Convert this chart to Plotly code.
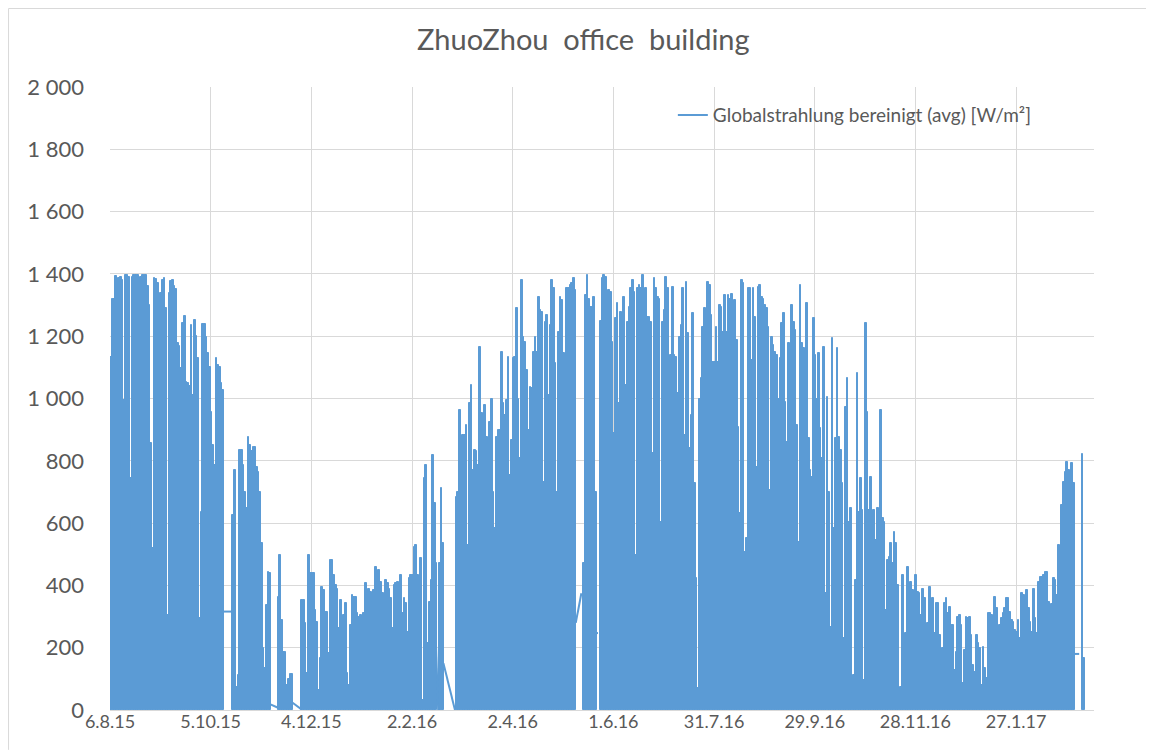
import pandas as pd
import plotly.graph_objects as go

START = "2015-08-06"
END = "2017-03-14 10:00"
SERIES_NAME = "Globalstrahlung bereinigt (avg) [W/m²]"
N = None

# daily peak of the global irradiance [W/m²], one value per day from 6.8.15 (None = no data)
peak = [
    1134, 1321, 1321, 1394, 1295, 1386, 1390, 1380, 995, 1396,
    1396, 1390, 744, 1390, 1396, 1396, 1396, 1263, 1390, 1396,
    1396, 1398, 1360, 1300, 856, 519, 1386, 1384, 1370, 209,
    1340, 1380, 1386, 1290, 305, 1340, 1376, 1380, 1360, 1350,
    1177, 1170, 1097, 1241, 1266, 1054, 1050, 1040, 1236, 1010,
    1252, 1200, 1130, 294, 637, 1240, 1240, 1198, 1145, 1100,
    958, 850, 786, 1129, 1107, 1100, 1050, 1027,
    N, N, N, N, N,
    626, 770, 75, 112, 834, 834, 786, 700, 650, 877,
    850, 830, 845, 845, 780, 765, 700, 535, 198, 134,
    337, 444, 440,
    N, N, N, N,
    364, 497, 289, 187, 187, 80, 101, 114, 114,
    N, N, N, N, N,
    353, 353, 278, 118, 497, 440, 439, 439, 321, 283,
    64, 166, 396, 385, 316, 316, 182, 481, 481, 433,
    401, 390, 262, 353, 230, 305, 342, 118, 80, 273,
    369, 364, 364, 310, 300, 305, 59, 310, 407, 369,
    390, 380, 348, 385, 460, 390, 449, 412, 375, 123,
    417, 407, 390, 358, 262, 401, 407, 412, 385, 433,
    310, 358, 342, 251, 423, 433, 433, 524, 530, 433,
    390, 487, 32, 744, 786, 214, 348, 417, 819, 663,
    471, N, 471, 712, 535,
    N, N, N, N, N, N, N,
    685, 700, 963, 765, 883, 883, 915, 530, 984, 1043,
    770, 835, 830, 786, 1166, 952, 428, 979, 877, 669,
    925, 1000, 700, 583, 877, 899, 899, 1150, 984, 947,
    995, 1134, 754, 867, 1129, 1134, 1289, 1000, 808, 1380,
    1198, 1182, 1091, 899, 1038, 1033, 1150, 1198, 1150, 1327,
    1284, 1279, 733, 1247, 1268, 1011, 1236, 1380, 1354, 1113,
    700, 1214, 1327, 1316, 1145, 567, 1354, 1354, 1364, 1370,
    1386, 1348,
    N, N, N, N,
    472, 1332, 1396, 1321, 1295, 1295, 1327, 700,
    N, N,
    1250,
    1386, 1396, 1390, 1225, 1348, 1343, 1182, 888, 1257, 1305,
    984, 1279, 1166, 1327, 1043, 1247, 1295, 1354, 1380, 1343,
    498, 1354, 1364, 1354, 1396, 1247, 1354, 1263, 1263, 1247,
    824, 1386, 1354, 1327, 1320, 605, 1247, 1284, 1391, 1354,
    1124, 1140, 1359, 1140, 1134, 1017, 1198, 1236, 1354, 883,
    1375, 1209, 840, 947, 1273, 728, 423, 70, 1000, 1065,
    1231, 1289, 1214, 1375, 1364, 1268, 1118, 1118, 1231, 1118,
    1300, 1295, 1214, 1332, 1214, 1332, 1321, 1337, 1310, 1316,
    1187, 909, 631, 1380, 1370, 508, 551, 1354, 1354, 1124,
    1354, 1263, 781, 1359, 1364, 1327, 1321, 1300, 1289,
    1230, 706, 1198, 1172, 1150, 1140, 1000, 1129, 1241, 1273,
    990, 861, 1177, 1065, 1300, 1247, 1220, 915, 540, 1364,
    1177, 1161, 1091, 1305, 872, 770, 749, 1257, 1140, 1000,
    1145, 904, 808, 1166, 375, 1006, 700, 268, 1193, 583,
    872, 1161, 877, 835, 728, 230, 974, 1065, 605, 647,
    54, 112, 417, 1081, 637, 744, 642, 96, 1241, 958,
    642, 749, 621, 642, 546, 647, 567, 963, 615, 605,
    321, 481, 492, 535, 471, 572, 535, 401, 70, 75,
    433, 70, 246, 460, 401, 412, 385, 316, 433, 380,
    375, 305, 390, 358, 273, 278, 396, 342,
    358, 246, 342, 342, 241, 144, 198, 342, 358, 310,
    332, 273, 273, 128, 187, 300, 305, 273, 86, 193,
    300, 294, 300, 241, 144, 123, 241, 214, 198, 80,
    203, 134, 102, 310, 310, 305, 300, 364, 326, 251,
    273, 294, 310, 326, 358, 358, 316, 289, 284, 257,
    251, 289, 230, 375, 369, 353, 385, 326, 284, 251,
    390, 294, 246, 412, 428, 428, 433, 444, 444, 348,
    337, 340, 423, 417, 369, 530, 123, 658, 733, 765,
    797, 770, 754, 792, 728,
    N, N, N, N,
    821, 166,
]

# straight lines drawn across the periods without data
gap_x = [
    "2015-10-12 14:00", "2015-10-17 05:00", N,
    "2015-11-09 14:00", "2015-11-13 20:00", N,
    "2015-11-22 10:00", "2015-11-28 02:00", N,
    "2016-02-15 19:00", "2016-02-17 14:00", N,
    "2016-02-20 17:00", "2016-02-27 14:00", N,
    "2016-05-09 14:00", "2016-05-12 22:00", N,
    "2016-05-20 22:00", "2016-05-22 20:00", N,
    "2017-03-01 17:00", "2017-03-05 14:00",
]
gap_y = [
    316, 316, N,
    18, 8, N,
    25, 2, N,
    283, 0, N,
    150, 0, N,
    280, 375, N,
    247, 247, N,
    180, 180,
]

tick_dates = ["2015-08-06", "2015-10-05", "2015-12-04", "2016-02-02", "2016-04-02",
              "2016-06-01", "2016-07-31", "2016-09-29", "2016-11-28", "2017-01-27"]
tick_labels = ["6.8.15", "5.10.15", "4.12.15", "2.2.16", "2.4.16",
               "1.6.16", "31.7.16", "29.9.16", "28.11.16", "27.1.17"]

days = pd.date_range(START + " 12:00", periods=len(peak), freq="D")

BLUE = "#5B9BD5"
GREY = "#595959"
GRID = "#D9D9D9"
FONT = "Lato, Calibri, sans-serif"

fig = go.Figure()
fig.add_trace(go.Bar(
    x=days, y=peak, width=86400000,
    marker=dict(color=BLUE, line=dict(width=1, color=BLUE)),
    showlegend=False, hoverinfo="x+y",
))
fig.add_trace(go.Scatter(
    x=gap_x, y=gap_y, mode="lines", name=SERIES_NAME,
    line=dict(color=BLUE, width=2), connectgaps=False,
))

fig.update_layout(
    width=1146, height=742,
    margin=dict(l=102, r=60, t=79, b=40),
    paper_bgcolor="white", plot_bgcolor="white",
    bargap=0,
    separators=", ",
    font=dict(family=FONT, color=GREY),
    title=dict(text="ZhuoZhou  office  building", x=0.502, xanchor="center",
               y=0.957, yanchor="middle",
               font=dict(family=FONT, size=29, color=GREY)),
    legend=dict(x=0.572, y=0.955, xanchor="left", yanchor="middle",
                bgcolor="rgba(0,0,0,0)", font=dict(size=19, color=GREY),
                itemwidth=30),
    showlegend=True,
)
fig.update_xaxes(
    type="date", range=[START, END],
    tickmode="array", tickvals=tick_dates, ticktext=tick_labels,
    showgrid=True, gridcolor=GRID, gridwidth=1,
    showline=True, linecolor=GRID, linewidth=1,
    ticks="", tickfont=dict(size=18, color=GREY), ticklabelstandoff=-5,
    zeroline=False,
)
fig.update_yaxes(
    range=[0, 2000], dtick=200, tick0=0, tickformat=",d",
    showgrid=True, gridcolor=GRID, gridwidth=1,
    showline=False, zeroline=False,
    ticks="", tickfont=dict(size=22, color=GREY), ticklabelstandoff=25,
)
# outer chart frame (top and left edges visible in the picture)
fig.add_shape(type="line", xref="paper", yref="paper",
              x0=-0.1031, x1=1.061, y0=1.126, y1=1.126,
              line=dict(color=GRID, width=1), layer="below")
fig.add_shape(type="line", xref="paper", yref="paper",
              x0=-0.1031, x1=-0.1031, y0=-0.064, y1=1.126,
              line=dict(color=GRID, width=1), layer="below")

fig.write_html("out.html")
